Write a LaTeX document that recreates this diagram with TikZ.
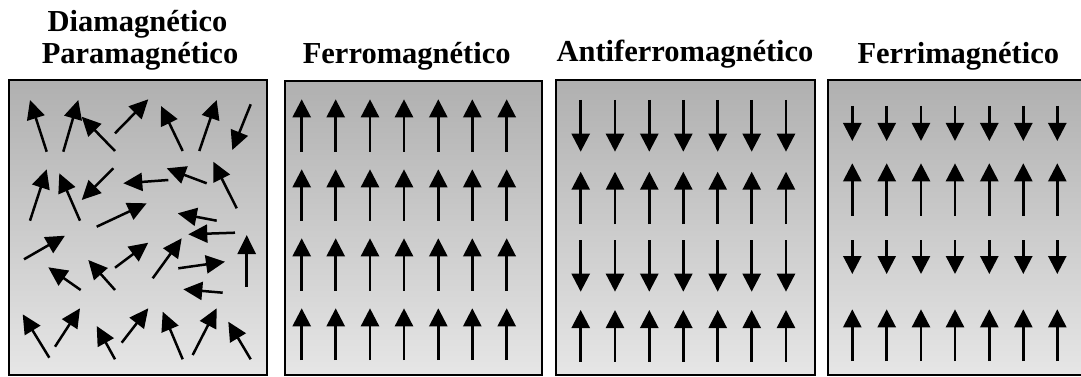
\documentclass[tikz,border=0pt]{standalone}
\usepackage{fontspec}
\setmainfont{Liberation Serif}
\usetikzlibrary{arrows.meta}
\definecolor{paneltop}{RGB}{176,176,176}
\definecolor{panelbot}{RGB}{230,230,230}
\tikzset{
  arr/.style={line width=2.5pt,-{Triangle[length=18pt,width=18pt]}},
  rarr/.style={line width=2.5pt,-{Triangle[length=19pt,width=18pt]}},
  paneltitle/.style={anchor=base,inner sep=0pt,font=\fontsize{30.5}{30.5}\selectfont\bfseries},
  panelframe/.style={draw=black,line width=2.6pt}
}
\begin{document}
\begin{tikzpicture}[x=1pt,y=-1pt]
\useasboundingbox (0,0) rectangle (1081,377);
\clip (0,0) rectangle (1081,377);
% panels
\shade[top color=paneltop,bottom color=panelbot] (9,80) rectangle (267,375);
\draw[panelframe] (9,80) rectangle (267,375);
\shade[top color=paneltop,bottom color=panelbot] (285,81) rectangle (542,375);
\draw[panelframe] (285,81) rectangle (542,375);
\shade[top color=paneltop,bottom color=panelbot] (556,80) rectangle (815,375);
\draw[panelframe] (556,80) rectangle (815,375);
\shade[top color=paneltop,bottom color=panelbot] (828,80) rectangle (1090,375);
\draw[panelframe] (828,80) rectangle (1090,375);
% titles
\node[paneltitle] (t1a) at (137.5,31.7) {Diamagnético};
\node[paneltitle] (t1b) at (140,63.3) {Paramagnético};
\node[paneltitle] (t2) at (406.7,63.3) {Ferromagnético};
\node[paneltitle] (t3) at (685,62) {Antiferromagnético};
\node[paneltitle] (t4) at (958.3,63.3) {Ferrimagnético};
% panel 1: random orientations
\foreach \a/\b/\c/\d in {
 46.7/151.7/30/100, 63.3/151.7/78.3/100, 115/151/81.7/116.7, 115/133.3/148.3/99.3,
 182.7/151/161/106, 199.3/151/216.7/100, 250.7/104.3/232.3/150,
 30/220.7/46.7/169.3, 80/220.7/59.3/173.3, 113.3/168.3/81.7/200, 168.3/180/123.3/183.3,
 206.7/183.3/166.7/168.3, 236.7/208.3/213.3/161.7, 96.7/226.7/146.7/203.3,
 216.7/220.7/177.7/213.3, 235/232.7/188.3/234.3, 246.7/286.7/246.7/235,
 24/259.3/65/235.7, 115/267.7/148.3/242.7, 152.7/278.3/181.7/238.3, 178.3/268.3/225/261.7,
 80.7/290/48.3/267.3, 115/290/88.3/260, 222.7/292.7/183.3/289.3,
 49.3/357.7/22.7/314.3, 55/346.7/80/308.3, 115/359.3/96.7/326, 121.7/342.7/148.3/308.3,
 182.7/359.3/162.7/311.7, 192.7/355/216.7/308.3, 250.7/359.3/228.3/321.7}
 \draw[rarr] (\a,\b) -- (\c,\d);
% panel 2: ferromagnetic
\foreach \x in {301.7,335.7,370,404,438.3,472.3,506.7}{
  \foreach \t/\tip in {151.7/99.3, 220.7/169.3, 290.7/238.3, 360/308.3}
    \draw[arr] (\x,\t) -- (\x,\tip);
}
% panel 3: antiferromagnetic
\foreach \x in {580.7,615,649.3,683.3,717.7,751.7,786}{
  \draw[arr] (\x,100) -- (\x,151.7);
  \draw[arr] (\x,224) -- (\x,171.7);
  \draw[arr] (\x,240) -- (\x,291.7);
  \draw[arr] (\x,361.7) -- (\x,310);
}
% panel 4: ferrimagnetic
\foreach \x in {852.3,886.7,921,955,989.3,1023.3,1057.3}{
  \draw[arr] (\x,106) -- (\x,141);
  \draw[arr] (\x,215.7) -- (\x,163.3);
  \draw[arr] (\x,240) -- (\x,274);
  \draw[arr] (\x,361) -- (\x,309.3);
}
\end{tikzpicture}
\end{document}
